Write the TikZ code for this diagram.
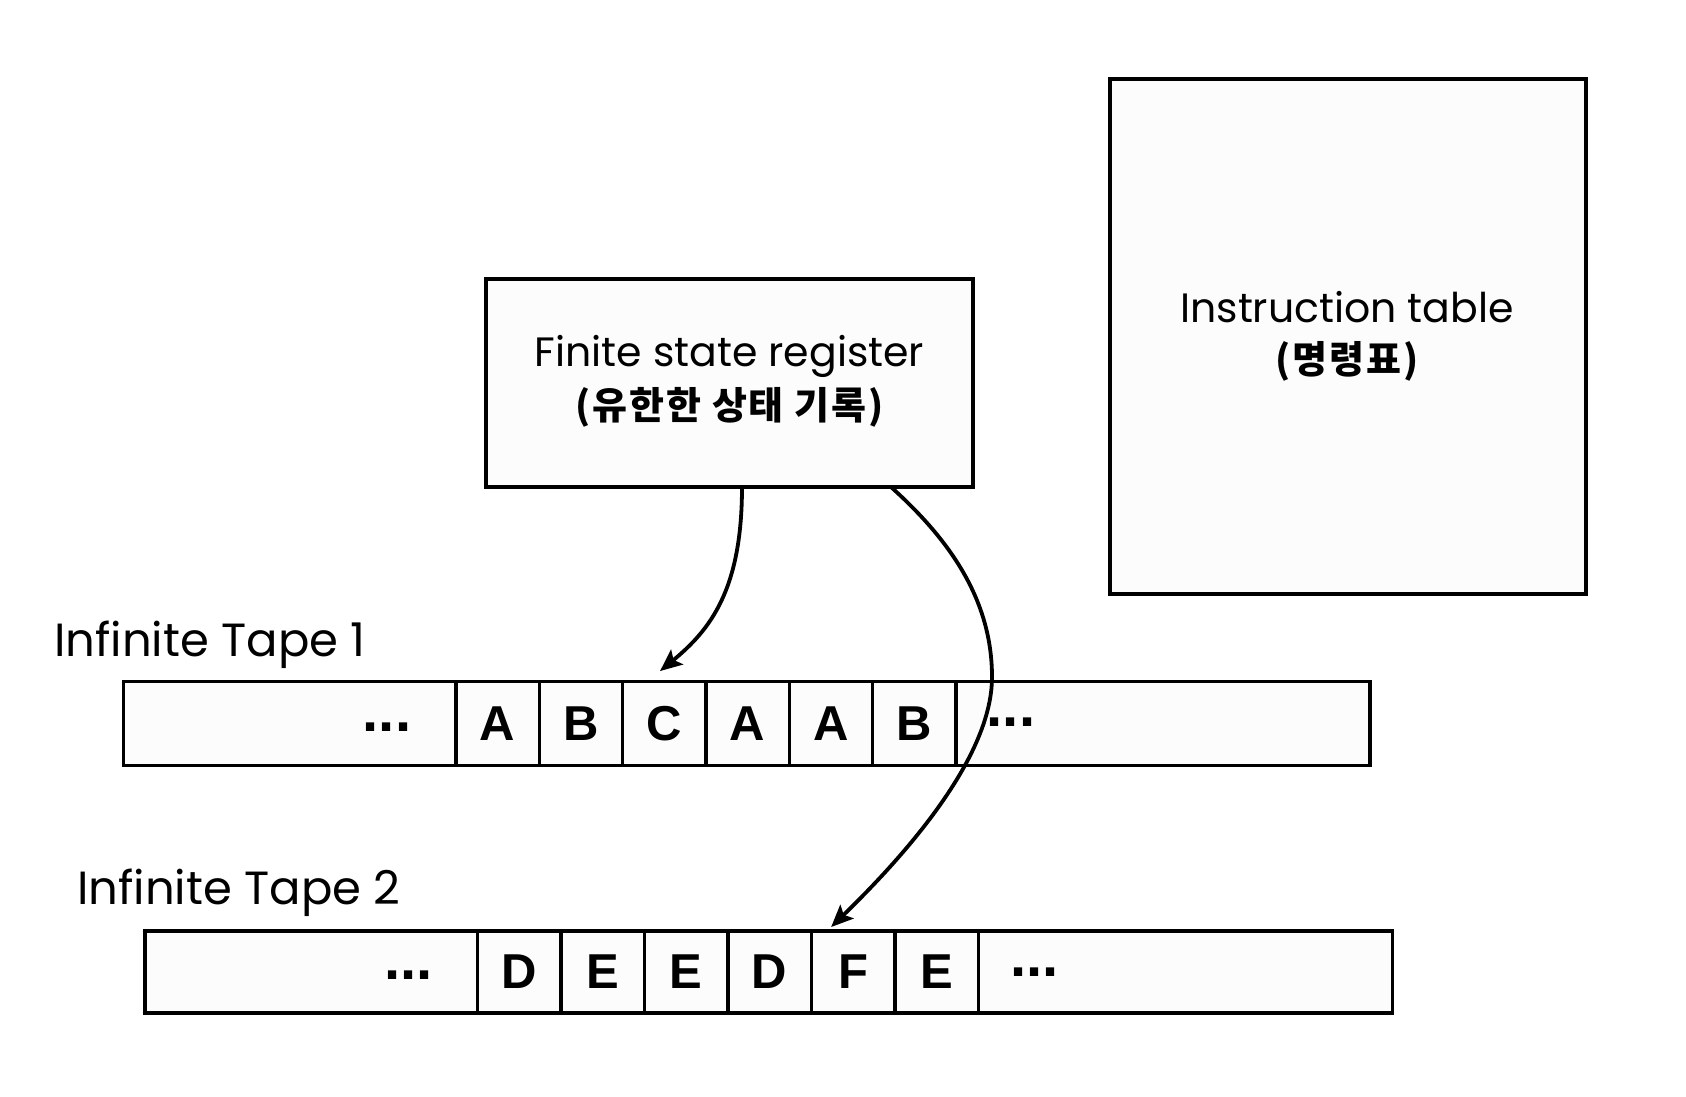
\documentclass[tikz,border=0pt]{standalone}
\usepackage{fontspec}
\setmainfont{Poppins}
\newfontfamily\kr[LetterSpace=5]{Noto Sans CJK KR}
\newfontfamily\tapefont{Liberation Sans}
\usetikzlibrary{arrows.meta,calc}
\begin{document}
\begin{tikzpicture}[x=1pt,y=-1pt,
  box/.style={draw, line width=4pt, fill=white!99!black, inner sep=0pt, outer sep=0pt},
  tapebox/.style={draw, line width=3.4pt, fill=white!99!black, inner sep=0pt, outer sep=0pt},
  cell/.style={draw, line width=3.4pt, fill=white!99!black, inner sep=0pt, outer sep=0pt,
    minimum width=83.4pt, font=\tapefont\bfseries\fontsize{49}{49}\selectfont},
  dots/.style={anchor=base, inner sep=0pt, font=\tapefont\bfseries\fontsize{58}{58}\selectfont},
  title/.style={anchor=base, inner sep=0pt, font=\fontsize{41}{41}\selectfont},
  ktitle/.style={anchor=base, inner sep=0pt, font=\kr\bfseries\fontsize{38}{38}\selectfont},
  tapelabel/.style={anchor=base west, inner sep=0pt, font=\fontsize{46.5}{46.5}\selectfont},
  arr/.style={line width=3.8pt, -{Stealth[length=22pt,width=19pt,inset=4.5pt]}}
]
\useasboundingbox (0,0) rectangle (1686,1096);
\fill[white] (0,0) rectangle (1686,1096);

% Finite state register
\node[box, minimum width=487pt, minimum height=208.5pt] (fsr) at (729.5,382.75) {};
\node[title] (fsrt1) at (729.5,366.5) {Finite state register};
\node[ktitle] (fsrt2) at (729.5,419) {(유한한 상태 기록)};

% Instruction table
\node[box, minimum width=476pt, minimum height=515pt] (itab) at (1348,336) {};
\node[title] (itabt1) at (1347,322) {Instruction table};
\node[ktitle] (itabt2) at (1347,373) {(명령표)};

% Tape 1
\node[tapelabel] (lab1) at (54,656) {Infinite Tape 1};
\node[tapebox, minimum width=1246.3pt, minimum height=84pt] (tape1) at (746.85,723.65) {};
\foreach \i/\t in {0/A,1/B,2/C,3/A,4/A,5/B}{
  \node[cell, minimum height=84pt] (c1\i) at ({456+83.33*(\i+0.5)},723.65) {\t};
}
\node[dots] (d1l) at (387,731) {...};
\node[dots] (d1r) at (1011,726) {...};

% Tape 2
\node[tapelabel] (lab2) at (77,904) {Infinite Tape 2};
\node[tapebox, minimum width=1247.5pt, minimum height=82pt] (tape2) at (768.75,972) {};
\foreach \i/\t in {0/D,1/E,2/E,3/D,4/F,5/E}{
  \node[cell, minimum height=82pt] (c2\i) at ({477.4+83.5*(\i+0.5)},972) {\t};
}
\node[dots] (d2l) at (408.6,979) {...};
\node[dots] (d2r) at (1034.4,976) {...};

% Arrows
\coordinate (s1) at ($(fsr.south)+(12.5,0)$);
\coordinate (e1) at ($(c12.north)+(-4.3,-10.6)$);
\coordinate (s2) at ($(fsr.south)+(161.5,0)$);
\coordinate (m2) at (992,677);
\coordinate (e2) at ($(c24.north)+(-22,-4)$);
\draw[arr] (s1) .. controls (742,590) and (710,630) .. (e1);
\draw[arr] (s2) .. controls (950,540) and (992,600) .. (m2)
                .. controls (992,760) and (900,860) .. (e2);
\end{tikzpicture}
\end{document}
